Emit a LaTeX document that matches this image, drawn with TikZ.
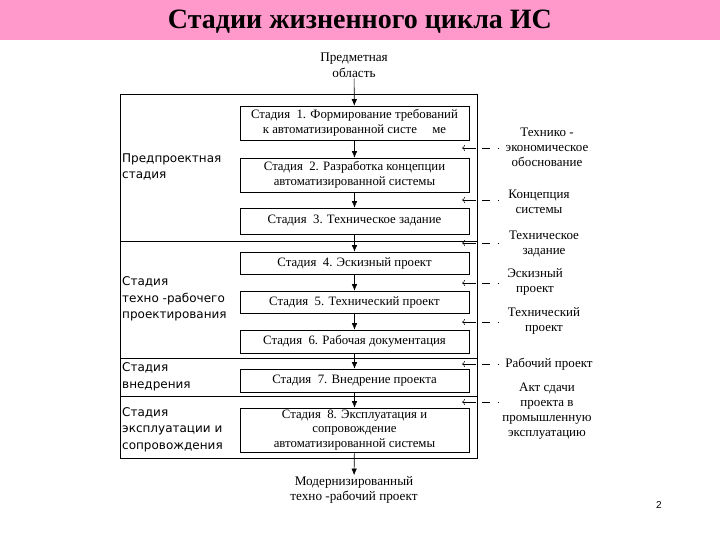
\documentclass[tikz,border=0pt]{standalone}
\usepackage{fontspec}
\setmainfont{Liberation Serif}
\newfontfamily\lsans{DejaVu Sans}
\newfontfamily\psans{Liberation Sans}
\usetikzlibrary{arrows.meta}
\definecolor{bandpink}{RGB}{255,153,204}
\tikzset{
  stagebox/.style={draw, line width=0.6pt, minimum width=229pt, inner sep=0pt, align=center, font=\fontsize{12.8}{14.5}\selectfont},
  flow/.style={line width=0.6pt, -{Latex[length=6.5pt,width=5.5pt]}},
  side/.style={line width=0.5pt, dash pattern=on 1pt off 8pt on 8pt off 6pt on 40pt, -{To[length=3pt,width=6pt]}},
  sidelabel/.style={align=center, inner sep=0pt, font=\fontsize{13}{15}\selectfont},
  leftlabel/.style={anchor=west, align=left, inner sep=0pt, font=\lsans\fontsize{12}{16.5}\selectfont},
  endtext/.style={align=center, inner sep=1pt, font=\fontsize{13.2}{15.5}\selectfont}
}
\begin{document}
\begin{tikzpicture}[x=1pt,y=-1pt]
\useasboundingbox (0,0) rectangle (720,540);
\fill[bandpink] (0,0) rectangle (720,40);
\node[font=\bfseries\fontsize{28}{32}\selectfont] (title) at (360,22) {Стадии жизненного цикла ИС};

% outer frame
\draw[line width=0.6pt] (120,94) rectangle (477,458);
\draw[line width=0.6pt] (120,241) -- (477,241);
\draw[line width=0.6pt] (120,358) -- (477,358);
\draw[line width=0.6pt] (120,396) -- (477,396);

% top and bottom texts
\node[endtext] (src) at (354,65) {Предметная\\область};
\node[endtext] (dst) at (354,490) {Модернизированный\\техно -рабочий проект};

% stage boxes
\node[stagebox, minimum height=34pt] (s1) at (354.5,123) {Стадия\ \ 1. Формирование требований\\к автоматизированной систе\hspace{1.2em}ме};
\node[stagebox, minimum height=34pt] (s2) at (354.5,175) {Стадия\ \ 2. Разработка концепции\\автоматизированной системы};
\node[stagebox, minimum height=26pt] (s3) at (354.5,221) {Стадия\ \ 3. Техническое задание};
\node[stagebox, minimum height=22pt] (s4) at (354.5,263) {Стадия\ \ 4. Эскизный проект};
\node[stagebox, minimum height=22pt] (s5) at (354.5,302) {Стадия\ \ 5. Технический проект};
\node[stagebox, minimum height=23pt] (s6) at (354.5,341.5) {Стадия\ \ 6. Рабочая документация};
\node[stagebox, minimum height=23pt] (s7) at (354.5,380.5) {Стадия\ \ 7. Внедрение проекта};
\node[stagebox, minimum height=44pt] (s8) at (354.5,430) {Стадия\ \ 8. Эксплуатация и\\сопровождение\\автоматизированной системы};

% flow arrows
\draw[flow] (src) -- (s1);
\draw[flow] (s1) -- (s2);
\draw[flow] (s2) -- (s3);
\draw[flow] (s3) -- (s4);
\draw[flow] (s4) -- (s5);
\draw[flow] (s5) -- (s6);
\draw[flow] (s6) -- (s7);
\draw[flow] (s7) -- (s8);
\draw[flow] (s8) -- (dst);

% left stage labels
\node[leftlabel] (g1) at (122,167) {Предпроектная\\стадия};
\node[leftlabel] (g2) at (122,299) {Стадия\\техно -рабочего\\проектирования};
\node[leftlabel] (g3) at (122,377) {Стадия\\внедрения};
\node[leftlabel] (g4) at (122,429.5) {Стадия\\эксплуатации и\\сопровождения};

% right side documents
\node[sidelabel] (d1) at (547,147.5) {Технико -\\экономическое\\обоснование};
\node[sidelabel] (d2) at (539,202) {Концепция\\системы};
\node[sidelabel] (d3) at (544,244.5) {Техническое\\задание};
\node[sidelabel] (d4) at (535,282) {Эскизный\\проект};
\node[sidelabel] (d5) at (544,320.5) {Технический\\проект};
\node[sidelabel] (d6) at (549,364) {Рабочий проект};
\node[sidelabel] (d7) at (547,411.5) {Акт сдачи\\проекта в\\промышленную\\эксплуатацию};

\foreach \i/\yy in {1/148,2/200,3/243,4/283,5/322,6/364,7/402}{
  \coordinate (a\i) at (499,\yy);
  \coordinate (b\i) at (462,\yy);
  \draw[side] (a\i) -- (b\i);
}

\node[font=\psans\fontsize{10}{12}\selectfont] (pnum) at (659,505) {2};
\end{tikzpicture}
\end{document}
